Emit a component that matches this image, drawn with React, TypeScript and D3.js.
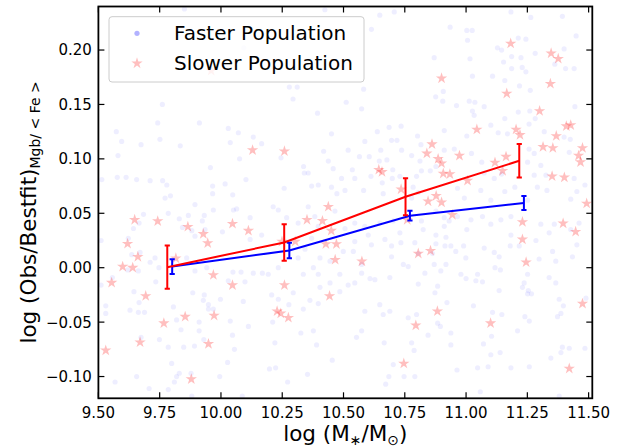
import React from "react";
import * as d3 from "d3";

// ---------- data ----------
const xTicks = [9.5, 9.75, 10.0, 10.25, 10.5, 10.75, 11.0, 11.25, 11.5];
const yTicks = [-0.1, -0.05, 0.0, 0.05, 0.1, 0.15, 0.2];

const blueMass = [9.801, 10.279, 10.771, 11.236];
const blueMean = [0.001, 0.0158, 0.0478, 0.0594];
const blueErr = [0.0067, 0.0072, 0.0045, 0.0064];

const redMass = [9.781, 10.258, 10.753, 11.217];
const redMean = [0.0005, 0.0232, 0.0652, 0.0982];
const redErr = [0.0198, 0.0167, 0.0169, 0.0154];

const slowerPoints: [number, number][] = [
  [9.53, -0.076], [9.554, -0.0138], [9.599, 0.001], [9.619, 0.022], [9.64, 0.0], [9.648, 0.044],
  [9.661, 0.01], [9.67, -0.0685], [9.693, -0.026], [9.742, 0.0428], [9.767, -0.051], [9.816, 0.0086],
  [9.854, -0.045], [9.865, 0.0376], [9.879, -0.1024], [9.928, 0.031], [9.946, 0.0226], [9.949, -0.07],
  [9.969, -0.0067], [9.972, -0.044], [9.96, 0.181], [10.047, 0.0404], [10.047, -0.016], [10.112, 0.034],
  [10.129, 0.108], [10.229, -0.04], [10.244, -0.042], [10.249, 0.024], [10.259, 0.107], [10.259, -0.016],
  [10.275, -0.046], [10.303, 0.024], [10.351, 0.044], [10.414, 0.043], [10.428, 0.0217], [10.438, 0.056],
  [10.443, -0.026], [10.45, 0.034], [10.471, 0.0217], [10.466, 0.0073], [10.575, 0.0058], [10.644, 0.09],
  [10.657, 0.088], [10.735, 0.072], [10.746, -0.088], [10.76, 0.044], [10.795, -0.053], [10.805, 0.013],
  [10.84, 0.105], [10.845, 0.061], [10.855, 0.0156], [10.861, 0.1135], [10.878, 0.066], [10.883, -0.04],
  [10.886, 0.1], [10.9, 0.096], [10.9, 0.06], [10.9, 0.174], [10.907, 0.0865], [10.934, 0.086],
  [10.944, 0.0486], [10.973, 0.103], [11.006, 0.08], [11.044, 0.127], [11.1, -0.051], [11.118, 0.0966],
  [11.149, 0.089], [11.163, 0.102], [11.166, 0.16], [11.182, 0.206], [11.204, 0.127], [11.22, 0.122],
  [11.23, 0.042], [11.23, 0.026], [11.245, 0.005], [11.3, 0.144], [11.314, 0.111], [11.344, 0.169],
  [11.347, 0.197], [11.351, 0.084], [11.354, 0.11], [11.368, 0.121], [11.376, 0.192], [11.396, 0.0407],
  [11.401, 0.083], [11.409, 0.13], [11.427, 0.131], [11.421, -0.0927], [11.447, 0.033], [11.459, 0.103],
  [11.467, 0.097], [11.475, 0.11], [11.475, -0.033], [11.492, 0.059],
];

const fasterPoints: [number, number][] = [
  // upper left
  [9.851, 0.2377], [9.761, 0.15], [9.742, 0.133], [9.912, 0.133], [9.573, 0.125], [9.595, 0.116],
  [9.674, 0.113], [9.751, 0.118], [9.834, 0.112], [10.03, 0.128], [10.071, 0.124], [10.132, 0.12],
  [10.166, 0.114], [10.038, 0.115], [9.58, 0.103], [10.076, 0.1], [9.957, 0.092], [9.514, 0.081],
  [9.577, 0.083], [9.613, 0.083], [9.656, 0.081], [9.711, 0.08], [9.762, 0.08], [9.779, 0.076],
  [9.966, 0.075], [10.017, 0.077], [10.102, 0.081], [9.966, 0.068], [10.048, 0.067], [9.772, 0.064],
  [9.794, 0.066], [10.093, 0.202],
  // upper middle
  [10.424, 0.237], [10.648, 0.232], [10.707, 0.235], [10.614, 0.219], [10.279, 0.166], [10.311, 0.166],
  [10.294, 0.155], [10.582, 0.164], [10.511, 0.152], [10.574, 0.146], [10.394, 0.142], [10.735, 0.13],
  [10.686, 0.129], [10.451, 0.123], [10.638, 0.125], [10.696, 0.117], [10.718, 0.117], [10.587, 0.116],
  [10.802, 0.121], [10.816, 0.113], [10.245, 0.101], [10.419, 0.107], [10.438, 0.098], [10.519, 0.108],
  [10.565, 0.102], [10.605, 0.102], [10.652, 0.108], [10.646, 0.098], [10.677, 0.099], [10.737, 0.108],
  [10.778, 0.103], [10.812, 0.098], [10.818, 0.089], [10.337, 0.093], [10.34, 0.087], [10.356, 0.087],
  [10.458, 0.091], [10.492, 0.082], [10.536, 0.09], [10.546, 0.082], [10.612, 0.084], [10.701, 0.09],
  [10.699, 0.082], [10.73, 0.084], [10.798, 0.084], [10.854, 0.089], [10.258, 0.073], [10.37, 0.075],
  [10.397, 0.076], [10.451, 0.074], [10.473, 0.068], [10.506, 0.071], [10.582, 0.071], [10.658, 0.078],
  [10.662, 0.068], [10.784, 0.074], [10.805, 0.069], [10.778, 0.064],
  // upper right
  [11.183, 0.235], [11.264, 0.23], [11.393, 0.231], [10.935, 0.221], [11.003, 0.218], [11.025, 0.218],
  [11.006, 0.209], [11.213, 0.211], [11.244, 0.21], [11.449, 0.213], [11.128, 0.202], [11.145, 0.2],
  [11.186, 0.194], [11.224, 0.193], [11.282, 0.197], [11.4, 0.201], [10.87, 0.193], [11.016, 0.192],
  [11.153, 0.189], [11.186, 0.183], [11.229, 0.184], [11.244, 0.18], [11.362, 0.187], [11.406, 0.183],
  [11.441, 0.183], [11.026, 0.176], [11.108, 0.176], [11.158, 0.172], [11.218, 0.167], [10.907, 0.162],
  [11.262, 0.163], [10.876, 0.157], [10.905, 0.153], [11.013, 0.153], [11.036, 0.152], [10.961, 0.149],
  [11.444, 0.148], [11.074, 0.148], [11.026, 0.144], [11.033, 0.14], [11.213, 0.143], [11.26, 0.144],
  [11.158, 0.137], [11.101, 0.131], [11.257, 0.132], [11.282, 0.137], [10.911, 0.126], [11.131, 0.124],
  [11.169, 0.123], [11.319, 0.125], [11.003, 0.121], [11.4, 0.12], [11.425, 0.118], [10.911, 0.108],
  [10.952, 0.109], [11.022, 0.105], [11.257, 0.109], [11.278, 0.105], [11.421, 0.106], [11.064, 0.097],
  [11.251, 0.097], [11.305, 0.094], [10.877, 0.093], [11.074, 0.087], [11.145, 0.086], [11.115, 0.082],
  [11.278, 0.085], [11.326, 0.085], [11.441, 0.082], [11.485, 0.076], [10.965, 0.073], [11.06, 0.071],
  [11.158, 0.07], [11.199, 0.074], [11.291, 0.074], [11.33, 0.071], [11.452, 0.07], [10.993, 0.064],
  [11.101, 0.062], [11.251, 0.062], [11.427, 0.063],
  // lower left
  [9.785, 0.05], [9.894, 0.058], [9.684, 0.049], [9.83, 0.045], [9.867, 0.048], [9.932, 0.048],
  [9.969, 0.053], [10.051, 0.053], [10.064, 0.054], [10.119, 0.046], [9.643, 0.036], [9.666, 0.041],
  [9.843, 0.037], [9.881, 0.034], [9.894, 0.029], [9.924, 0.043], [9.935, 0.035], [10.006, 0.033],
  [10.119, 0.026], [10.166, 0.03], [9.622, 0.027], [9.511, 0.025], [9.67, 0.014], [9.636, 0.012],
  [9.711, 0.005], [9.731, 0.009], [9.86, 0.009], [9.663, -0.003], [9.62, -0.002], [9.557, -0.009],
  [9.511, -0.016], [9.747, 0.0], [9.894, -0.003], [9.942, 0.0], [10.049, -0.004], [10.082, -0.004],
  [10.132, -0.005], [10.03, -0.012], [10.098, -0.013], [10.169, -0.005], [9.734, -0.013], [9.645, -0.022],
  [9.885, -0.023], [9.932, -0.025], [9.998, -0.029], [10.091, -0.031], [9.53, -0.035], [9.53, -0.042],
  [9.629, -0.039], [9.666, -0.032], [9.663, -0.041], [9.688, -0.041], [9.806, -0.036], [9.928, -0.03],
  [9.949, -0.034], [9.949, -0.038], [9.969, -0.038], [9.819, -0.048], [9.911, -0.05], [10.038, -0.049],
  [10.112, -0.054], [9.837, -0.057], [9.911, -0.058], [9.674, -0.064], [9.749, -0.066], [9.785, -0.073],
  [9.848, -0.073], [9.892, -0.072], [9.93, -0.066], [10.047, -0.062], [10.055, -0.075], [9.799, -0.088],
  [10.027, -0.087], [9.819, -0.1], [9.83, -0.097], [9.878, -0.097], [9.656, -0.1], [9.568, -0.105],
  [9.81, -0.105], [9.995, -0.1], [9.707, -0.111], [9.785, -0.112], [9.881, -0.118], [10.087, -0.118],
  // lower middle
  [10.213, 0.056], [10.234, 0.053], [10.356, 0.056], [10.383, 0.047], [10.465, 0.052], [10.315, 0.041],
  [10.268, 0.046], [10.397, 0.038], [10.506, 0.036], [10.546, 0.041], [10.587, 0.038], [10.648, 0.041],
  [10.703, 0.043], [10.818, 0.043], [10.825, 0.035], [10.37, 0.027], [10.546, 0.024], [10.601, 0.03],
  [10.614, 0.021], [10.669, 0.026], [10.73, 0.032], [10.734, 0.023], [10.791, 0.023], [10.696, 0.02],
  [10.343, 0.017], [10.499, 0.015], [10.54, 0.015], [10.696, 0.01], [10.805, 0.013], [10.315, 0.009],
  [10.404, 0.009], [10.445, 0.006], [10.234, 0.0], [10.377, 0.0], [10.574, 0.003], [10.744, 0.003],
  [10.764, 0.001], [10.193, -0.006], [10.336, -0.006], [10.397, -0.006], [10.485, -0.006], [10.574, -0.005],
  [10.608, -0.01], [10.628, -0.011], [10.689, -0.009], [10.805, -0.015], [10.832, -0.005], [10.445, -0.014],
  [10.519, -0.016], [10.546, -0.014], [10.207, -0.025], [10.295, -0.023], [10.404, -0.018], [10.485, -0.022],
  [10.363, -0.03], [10.234, -0.029], [10.277, -0.034], [10.336, -0.038], [10.397, -0.033], [10.587, -0.04],
  [10.648, -0.034], [10.662, -0.043], [10.689, -0.04], [10.764, -0.046], [10.798, -0.043], [10.211, -0.05],
  [10.326, -0.06], [10.377, -0.058], [10.574, -0.058], [10.553, -0.064], [10.845, -0.062], [10.22, -0.069],
  [10.39, -0.071], [10.666, -0.069], [10.778, -0.069], [10.788, -0.076], [10.454, -0.085], [10.198, -0.093],
  [10.223, -0.092], [10.703, -0.089], [10.353, -0.098], [10.685, -0.1], [10.747, -0.1], [10.791, -0.1],
  [10.272, -0.105], [10.672, -0.107],
  // lower right
  [10.877, 0.052], [10.911, 0.046], [10.911, 0.038], [10.931, 0.043], [10.965, 0.047], [11.003, 0.035],
  [11.02, 0.044], [11.067, 0.047], [11.101, 0.04], [11.142, 0.044], [11.183, 0.047], [11.183, 0.03],
  [11.305, 0.04], [11.339, 0.032], [11.36, 0.04], [11.427, 0.035], [11.461, 0.041], [10.877, 0.03],
  [10.918, 0.028], [10.877, 0.022], [10.914, 0.02], [10.938, 0.02], [10.99, 0.02], [11.074, 0.018],
  [11.115, 0.014], [11.18, 0.02], [11.217, 0.02], [11.285, 0.025], [11.353, 0.015], [11.452, 0.021],
  [10.863, 0.013], [10.958, 0.015], [10.999, 0.009], [11.135, 0.01], [11.298, 0.008], [11.366, 0.006],
  [11.434, 0.01], [10.87, 0.003], [10.918, 0.003], [10.897, -0.003], [10.979, -0.006], [11.047, -0.006],
  [11.0, -0.01], [11.04, -0.012], [11.067, -0.013], [11.118, 0.0], [11.14, -0.002], [11.251, -0.006],
  [11.339, -0.009], [11.366, -0.014], [11.237, -0.014], [11.23, -0.018], [11.254, -0.021], [11.135, -0.021],
  [11.251, -0.024], [11.267, -0.024], [10.884, -0.017], [10.873, -0.023], [10.922, -0.032], [11.03, -0.035],
  [11.108, -0.041], [11.146, -0.043], [11.24, -0.045], [11.258, -0.049], [11.38, -0.029], [11.397, -0.035],
  [11.387, -0.042], [11.373, -0.045], [11.489, -0.028], [10.884, -0.051], [10.895, -0.054], [10.938, -0.06],
  [11.21, -0.058], [11.104, -0.063], [10.938, -0.071], [11.071, -0.07], [11.101, -0.08], [11.139, -0.078],
  [11.393, -0.073], [11.421, -0.074], [11.485, -0.074], [11.387, -0.078], [11.346, -0.083], [10.963, -0.094],
  [11.047, -0.092], [11.09, -0.091], [11.183, -0.092], [11.258, -0.091], [11.058, -0.114], [11.38, -0.118],
];

// ---------- layout ----------
const W = 633;
const H = 448;
const L = 98.4;
const R = 592.3;
const T = 6.5;
const B = 398.3;
const FONT = "'DejaVu Sans', sans-serif";

const x = d3.scaleLinear().domain([9.5, 11.515]).range([L, R]);
const y = d3.scaleLinear().domain([-0.12, 0.24]).range([B, T]);

const starPath = d3.symbol().type(d3.symbolStar).size(40)() as string;

const fmt = (v: number) => {
  const s = Math.abs(v).toFixed(2);
  return v < -1e-9 ? "\u2212" + s : s;
};

function Series({ xs, ms, es, color }: { xs: number[]; ms: number[]; es: number[]; color: string }) {
  const line = d3
    .line<number>()
    .x((_, i) => x(xs[i]))
    .y((d) => y(d));
  const cap = 2.6;
  return (
    <g>
      <path d={line(ms) as string} fill="none" stroke={color} strokeWidth={2} />
      {xs.map((xv, i) => {
        const cx = x(xv);
        const y0 = y(ms[i] - es[i]);
        const y1 = y(ms[i] + es[i]);
        return (
          <g key={i} stroke={color} strokeWidth={2}>
            <line x1={cx} x2={cx} y1={y0} y2={y1} />
            <line x1={cx - cap} x2={cx + cap} y1={y0} y2={y0} />
            <line x1={cx - cap} x2={cx + cap} y1={y1} y2={y1} />
          </g>
        );
      })}
    </g>
  );
}

export default function App() {
  const tickLen = 6;
  return (
    <svg
      width={W}
      height={H}
      viewBox={`0 0 ${W} ${H}`}
      style={{ position: "absolute", left: 0, top: 0, background: "#fff" }}
      fontFamily={FONT}
    >
      <rect x={0} y={0} width={W} height={H} fill="#fff" />
      <defs>
        <clipPath id="plotclip">
          <rect x={L} y={T} width={R - L} height={B - T} />
        </clipPath>
      </defs>

      <g clipPath="url(#plotclip)">
        {fasterPoints.map((p, i) => (
          <circle key={i} cx={x(p[0])} cy={y(p[1])} r={2.6} fill="#0000ff" fillOpacity={0.065} />
        ))}
        {slowerPoints.map((p, i) => (
          <path
            key={i}
            d={starPath}
            transform={`translate(${x(p[0])},${y(p[1])})`}
            fill="#ff0000"
            fillOpacity={0.25}
          />
        ))}
        <Series xs={blueMass} ms={blueMean} es={blueErr} color="#0000ff" />
        <Series xs={redMass} ms={redMean} es={redErr} color="#ff0000" />
      </g>

      {/* ticks */}
      <g stroke="#000" strokeWidth={1.2}>
        {xTicks.map((t) => (
          <g key={"xt" + t}>
            <line x1={x(t)} x2={x(t)} y1={B} y2={B - tickLen} />
            <line x1={x(t)} x2={x(t)} y1={T} y2={T + tickLen} />
          </g>
        ))}
        {yTicks.map((t) => (
          <g key={"yt" + t}>
            <line x1={L} x2={L + tickLen} y1={y(t)} y2={y(t)} />
            <line x1={R} x2={R - tickLen} y1={y(t)} y2={y(t)} />
          </g>
        ))}
      </g>
      <rect x={L} y={T} width={R - L} height={B - T} fill="none" stroke="#000" strokeWidth={1.8} />

      {/* tick labels */}
      <g fontSize={15} fill="#000">
        {xTicks.map((t) => (
          <text key={"xl" + t} x={x(t)} y={B + 19.5} textAnchor="middle">
            {fmt(t)}
          </text>
        ))}
        {yTicks.map((t) => (
          <text key={"yl" + t} x={L - 6.5} y={y(t) + 5.4} textAnchor="end">
            {fmt(t)}
          </text>
        ))}
      </g>

      {/* axis labels */}
      <text x={(L + R) / 2} y={441} textAnchor="middle" fontSize={21.5} fill="#000">
        log (M
        <tspan fontSize={14} dy={4}>
          {"\u2217"}
        </tspan>
        <tspan dy={-4}>/M</tspan>
        <tspan fontSize={14} dy={4}>
          {"\u2299"}
        </tspan>
        <tspan dy={-4}>)</tspan>
      </text>
      <text
        transform={`translate(36,${(T + B) / 2 + 10}) rotate(-90)`}
        textAnchor="middle"
        fontSize={21.5}
        fill="#000"
      >
        log (Obs/Bestfit)
        <tspan fontSize={14} dy={4}>
          {"Mgb/ < Fe >"}
        </tspan>
      </text>

      {/* legend */}
      <rect x={109} y={16.7} width={255} height={65.3} rx={3} fill="#fff" fillOpacity={0.8} stroke="#cccccc" strokeWidth={1} />
      <circle cx={137} cy={33.3} r={2.6} fill="#0000ff" fillOpacity={0.3} />
      <path d={starPath} transform="translate(137,63.3)" fill="#ff0000" fillOpacity={0.25} />
      <text x={174} y={40} fontSize={20} fill="#000">
        Faster Population
      </text>
      <text x={174} y={70} fontSize={20} fill="#000">
        Slower Population
      </text>
    </svg>
  );
}
